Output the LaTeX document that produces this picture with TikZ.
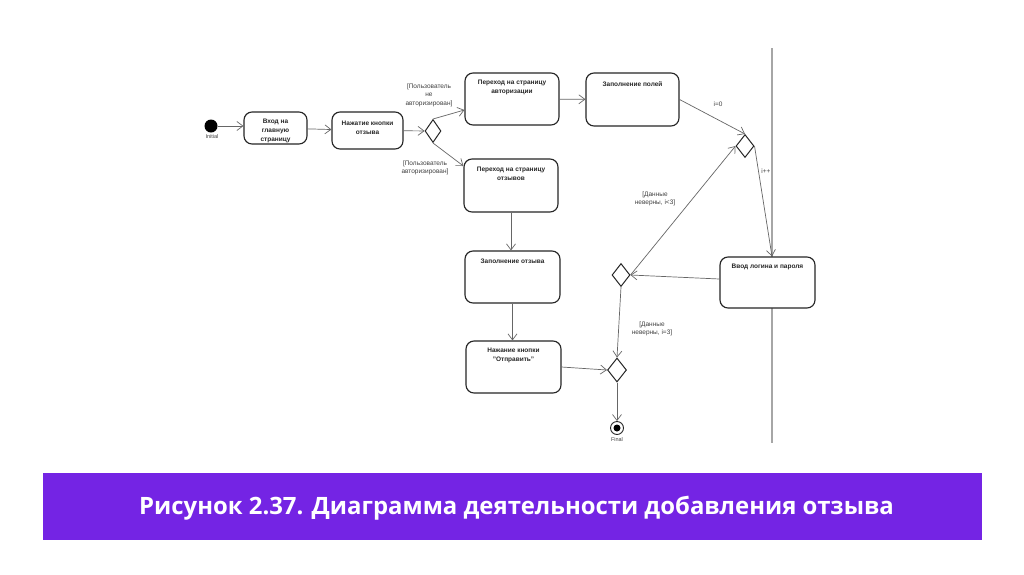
\documentclass[tikz,border=0pt]{standalone}
\usepackage{fontspec}
\setmainfont{Liberation Sans}
\newfontfamily\capfont{Open Sans}
\usetikzlibrary{shapes.geometric,arrows.meta}
\definecolor{barviolet}{RGB}{116,36,228}
\begin{document}
\begin{tikzpicture}[x=1pt,y=-1pt,
  box/.style={draw=black!85, line width=1.15pt, rounded corners=8pt, fill=white, inner sep=0pt},
  btext/.style={font=\bfseries\fontsize{6.5}{9}\selectfont, align=center, inner sep=0pt, text=black!85},
  lbl/.style={font=\fontsize{6.5}{8.5}\selectfont, align=center, inner sep=0pt, text=black!75},
  small/.style={font=\fontsize{5.5}{7}\selectfont, inner sep=0pt, text=black!75},
  dia/.style={diamond, draw=black!85, line width=1pt, fill=white, inner sep=0pt},
  flow/.style={draw=black!60, line width=0.7pt, -{Straight Barb[length=6pt,width=9pt]}},
]
\useasboundingbox (0,0) rectangle (1024,574);
\fill[white] (0,0) rectangle (1024,574);

% swimlane line
\draw[black!35, line width=1.5pt] (772,48) -- (772,443);

% nodes
\node[circle, fill=black, minimum size=13pt, inner sep=0pt] (init) at (211,126) {};
\node[small] (initl) at (212,137) {Initial};

\node[box, minimum width=63pt, minimum height=32pt] (vhod) at (275.5,128) {};
\node[btext] (vhodt) at (275.5,131) {Вход на\\главную\\страницу};

\node[box, minimum width=71pt, minimum height=37pt] (nazh) at (367.5,130.5) {};
\node[btext] (nazht) at (367.5,127.5) {Нажатие кнопки\\отзыва};

\node[dia, minimum width=16pt, minimum height=23pt] (d1) at (433,131) {};

\node[box, minimum width=94pt, minimum height=52pt] (auth) at (512,99) {};
\node[btext] (autht) at (512,87.5) {Переход на страницу\\авторизации};

\node[box, minimum width=93pt, minimum height=53pt] (poley) at (632.5,99.5) {};
\node[btext] (poleyt) at (632.5,84) {Заполнение полей};

\node[box, minimum width=94pt, minimum height=53pt] (otz) at (511,185.5) {};
\node[btext] (otzt) at (511,174) {Переход на страницу\\отзывов};

\node[box, minimum width=95pt, minimum height=52pt] (zapotz) at (512.5,277) {};
\node[btext] (zapotzt) at (512.5,261) {Заполнение отзыва};

\node[box, minimum width=95pt, minimum height=52pt] (otpr) at (513.5,367) {};
\node[btext] (otprt) at (513.5,355.5) {Нажание кнопки\\"Отправить"};

\node[box, minimum width=95pt, minimum height=51pt] (vvod) at (767.5,282.5) {};
\node[btext] (vvodt) at (767.5,267) {Ввод логина и пароля};

\node[dia, minimum width=18pt, minimum height=23pt] (d2) at (745,146) {};
\node[dia, minimum width=18pt, minimum height=23pt] (d3) at (621,275) {};
\node[dia, minimum width=19pt, minimum height=24pt] (d4) at (617,370) {};

\node[circle, draw=black!85, line width=0.9pt, fill=white, minimum size=13pt, inner sep=0pt] (fin) at (617,428) {};
\node[circle, fill=black, minimum size=7pt, inner sep=0pt] (fincore) at (617,428) {};
\node[small] (finl) at (617,440) {Final};

% labels
\node[lbl] (l1) at (429,95) {[Пользователь\\не\\авторизирован]};
\node[lbl] (l2) at (425,168) {[Пользователь\\авторизирован]};
\node[lbl] (l3) at (718,104) {i=0};
\node[lbl] (l4) at (766,171) {i++};
\node[lbl] (l5) at (655,199) {[Данные\\неверны, i<3]};
\node[lbl] (l6) at (652,329) {[Данные\\неверны, i=3]};

% connectors
\draw[flow] (init) -- (init -| vhod.west);
\draw[flow] (vhod) -- (nazh);
\draw[flow] (nazh) -- (d1);
\draw[flow] (d1.north) -- ([yshift=-11pt]auth.west);
\draw[flow] (d1.south) -- ([yshift=19.5pt]otz.west);
\draw[flow] (auth) -- (poley);
\draw[flow] (poley.east) -- (d2.north);
\draw[flow] (d2.east) -- ([xshift=4.5pt]vvod.north);
\draw[flow] ([yshift=3.5pt]vvod.west) -- (d3.east);
\draw[flow] (d3.east) -- (d2.west);
\draw[flow] (d3.south) -- (d4.north);
\draw[flow] (otpr.east) -- (d4.west);
\draw[flow] (d4.south) -- (fin.north);
\draw[flow] (otz.south) -- (otz.south |- zapotz.north);
\draw[flow] (zapotz.south) -- (zapotz.south |- otpr.north);

% caption bar
\fill[barviolet] (43,473) rectangle (982,540);
\node[text=white, anchor=base, inner sep=0pt, font=\capfont\bfseries\fontsize{23.9}{29}\selectfont] (cap) at (516.5,514) {Рисунок 2.37. Диаграмма деятельности добавления отзыва};
\end{tikzpicture}
\end{document}
